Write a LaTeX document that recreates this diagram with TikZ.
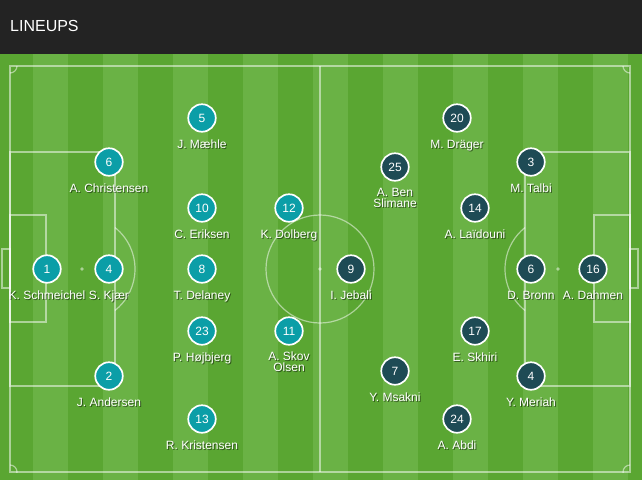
\documentclass[tikz,border=0pt]{standalone}
\usepackage{fontspec}
\setmainfont{Liberation Sans}
\usetikzlibrary{positioning}

\definecolor{headerbg}{HTML}{232323}
\definecolor{pitchdark}{HTML}{5AA632}
\definecolor{pitchlight}{HTML}{6AB245}
\definecolor{homeclr}{HTML}{0B9EA7}
\definecolor{awayclr}{HTML}{1E4B55}

\tikzset{
  pitchline/.style={draw=white, draw opacity=0.5, line width=1.2pt},
  player/.style={circle, draw=white, line width=1.7pt, minimum size=27.5pt,
    inner sep=0pt, text=white, font=\fontsize{12}{12}\selectfont},
  homeplayer/.style={player, fill=homeclr},
  awayplayer/.style={player, fill=awayclr},
  plname/.style={anchor=base, inner sep=0pt, align=center, text=white,
    font=\fontsize{12}{11.5}\selectfont},
  plshadow/.style={plname, text=black, text opacity=0.5},
}

\begin{document}
\begin{tikzpicture}[x=1pt, y=-1pt]
    \useasboundingbox (0,0) rectangle (642,480);

    % Header
    \fill[headerbg] (0,0) rectangle (642,54);
    \node[anchor=west, inner sep=0pt, text=white, font=\fontsize{16}{16}\selectfont] (title) at (10,26) {LINEUPS};

    % Grass stripes
    \fill[pitchdark] (0,54) rectangle (642,480);
    \foreach \sx in {33,103,...,593}
        \fill[pitchlight] (\sx,54) rectangle ++(35,426);

    % Outline and halfway line
    \draw[pitchline] (10,66) rectangle (630,472);
    \draw[pitchline] (320,66) -- (320,472);
    \draw[pitchline] (320,269) circle[radius=54];
    \fill[white, opacity=0.5] (320,269) circle[radius=1.8];

    % Left end
    \draw[pitchline] (10,152) rectangle (115,386);
    \draw[pitchline] (10,215) rectangle (46,322);
    \draw[pitchline] (10,249) rectangle (2,288);
    \fill[white, opacity=0.5] (82,269) circle[radius=1.8];
    \draw[pitchline] (82,269) ++(-51.5:53) arc[start angle=-51.5, end angle=51.5, radius=53];

    % Right end
    \draw[pitchline] (525,152) rectangle (630,386);
    \draw[pitchline] (594,215) rectangle (630,322);
    \draw[pitchline] (630,249) rectangle (638,288);
    \fill[white, opacity=0.5] (558,269) circle[radius=1.8];
    \draw[pitchline] (558,269) ++(128.5:53) arc[start angle=128.5, end angle=231.5, radius=53];

    % Corners
    \begin{scope}
        \clip (10,66) rectangle (630,472);
        \foreach \cx/\cy in {10/66, 630/66, 10/472, 630/472}
            \draw[pitchline] (\cx,\cy) circle[radius=7];
    \end{scope}

    % Denmark
    \foreach \num/\x/\y/\dy/\who in {1/47/269/0/K. Schmeichel, 4/109/269/0/S. Kjær,
        6/109/162/0/A. Christensen, 2/109/376/0/J. Andersen, 5/202/118/0/J. Mæhle,
        10/202/208/0/C. Eriksen, 8/202/269/0/T. Delaney, 23/202/331/0/P. Højbjerg,
        13/202/419/0/R. Kristensen, 12/289/208/0/K. Dolberg, 11/289/331/10.5/A. Skov\\Olsen}{
        \node[homeplayer] (dk\num) at (\x,\y) {\num};
        \node[plshadow] (dk\num-sh) at ({\x+1},{\y+31+\dy}) {\who};
        \node[plname] (dk\num-name) at (\x,{\y+30+\dy}) {\who};
    }

    % Tunisia
    \foreach \num/\x/\y/\dy/\who in {16/593/269/0/A. Dahmen, 6/531/269/0/D. Bronn,
        3/531/162/0/M. Talbi, 4/531/376/0/Y. Meriah, 20/457/118/0/M. Dräger,
        14/475/208/0/A. Laïdouni, 17/475/331/0/E. Skhiri, 24/457/419/0/A. Abdi,
        25/395/167/10.5/A. Ben\\Slimane, 7/395/371/0/Y. Msakni, 9/351/269/0/I. Jebali}{
        \node[awayplayer] (tn\num) at (\x,\y) {\num};
        \node[plshadow] (tn\num-sh) at ({\x+1},{\y+31+\dy}) {\who};
        \node[plname] (tn\num-name) at (\x,{\y+30+\dy}) {\who};
    }

\end{tikzpicture}
\end{document}
